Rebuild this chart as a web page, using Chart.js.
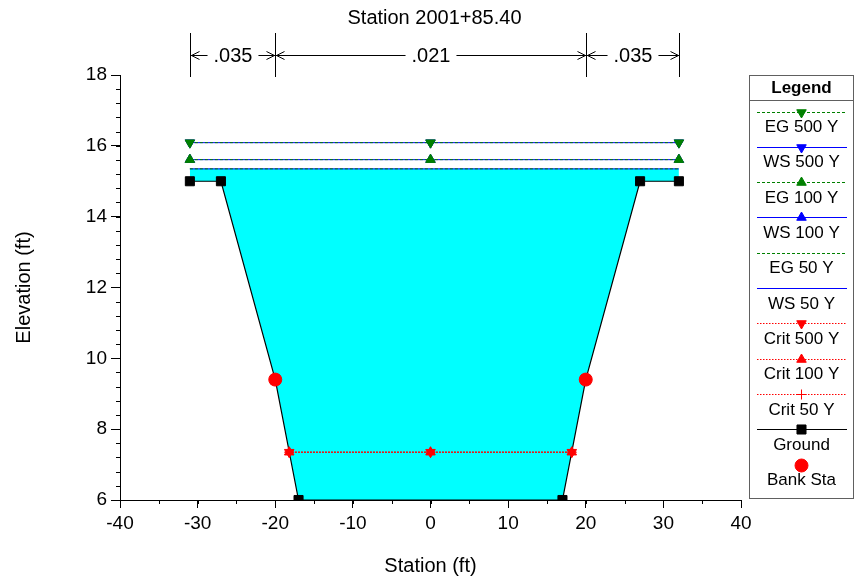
<!DOCTYPE html>
<html>
<head>
<meta charset="utf-8">
<title>Station 2001+85.40</title>
<script src="https://cdn.jsdelivr.net/npm/chart.js@4/dist/chart.umd.min.js"></script>
<style>
  html, body { margin: 0; padding: 0; background: #fff; }
  #wrap { width: 855px; height: 581px; }
</style>
</head>
<body>
<div id="wrap"><canvas id="xsChart" width="855" height="581"></canvas></div>
<script>
// --- Section data ---
const groundSta = [-31, -27, -20, -17, 17, 20, 27, 32];
const groundElev = [15, 15, 9.4, 6, 6, 9.4, 15, 15];
const bankSta = [-20, 20];
const bankElev = [9.4, 9.4];

const wsSta = [-31, 0, 32];
const eg500 = [16.09, 16.09, 16.09];
const ws500 = [16.09, 16.09, 16.09];
const eg100 = [15.61, 15.61, 15.61];
const ws100 = [15.61, 15.61, 15.61];
const eg50 = [15.35, 15.35, 15.35];
const ws50 = [15.35, 15.35, 15.35];

const critSta = [-18.2, 0, 18.2];
const crit500 = [7.35, 7.35, 7.35];
const crit100 = [7.35, 7.35, 7.35];
const crit50 = [7.35, 7.35, 7.35];

// Manning's n breaks
const nBreaks = [-31, -20, 20, 32];
const nValues = ['.035', '.021', '.035'];

// Axis ranges / steps
const xRange = [-40, 40];
const yRange = [6, 18];
const xStep = 10, xMinorStep = 5;
const yStep = 2, yMinorStep = 0.4;

const chartTitle = 'Station 2001+85.40';

const FONT = '"Liberation Sans", Arial, Helvetica, sans-serif';
Chart.defaults.font.family = FONT;
Chart.defaults.color = '#000';

const GREEN = '#008000';
const BLUE = '#0000ff';
const RED = '#ff0000';

function pts(xs, ys) {
  return xs.map((x, i) => ({ x: x, y: ys[i] }));
}

function profile(label, xs, ys, color, dash, style, rotation, radius) {
  return {
    label: label,
    data: pts(xs, ys),
    showLine: true,
    borderColor: color,
    backgroundColor: color,
    borderWidth: 1,
    borderDash: dash,
    pointStyle: style || 'circle',
    pointRotation: rotation || 0,
    pointRadius: style ? (radius || 5.5) : 0,
    pointBorderWidth: 1,
    pointBackgroundColor: color,
    pointBorderColor: color,
    fill: false
  };
}

const datasets = [
  profile('EG 500 Y', wsSta, eg500, GREEN, [3, 2], 'triangle', 180),
  profile('WS 500 Y', wsSta, ws500, BLUE, [], 'triangle', 180),
  profile('EG 100 Y', wsSta, eg100, GREEN, [3, 2], 'triangle', 0),
  profile('WS 100 Y', wsSta, ws100, BLUE, [], 'triangle', 0),
  profile('EG 50 Y', wsSta, eg50, GREEN, [3, 2], null),
  profile('WS 50 Y', wsSta, ws50, BLUE, [], null),
  profile('Crit 500 Y', critSta, crit500, RED, [1.5, 1.5], 'triangle', 180),
  profile('Crit 100 Y', critSta, crit100, RED, [1.5, 1.5], 'triangle', 0),
  profile('Crit 50 Y', critSta, crit50, RED, [1.5, 1.5], 'cross', 0, 5),
  profile('Ground', groundSta, groundElev, '#000', [], 'rect', 0, 6.4),
  {
    label: 'Bank Sta',
    data: pts(bankSta, bankElev),
    showLine: false,
    pointStyle: 'circle',
    pointRadius: 6.5,
    pointBorderWidth: 1,
    pointBackgroundColor: RED,
    pointBorderColor: RED,
    borderColor: RED,
    backgroundColor: RED,
    order: -1
  }
];
// water fill between WS 50 Y and the ground line
datasets[5].fill = 9;
datasets[5].backgroundColor = '#00ffff';
datasets[9].borderWidth = 1.2;

// --- minor ticks ---
const minorTicks = {
  id: 'minorTicks',
  afterDraw(chart) {
    const { ctx, chartArea } = chart;
    const xs = chart.scales.x, ys = chart.scales.y;
    ctx.save();
    ctx.strokeStyle = '#000';
    ctx.lineWidth = 1;
    ctx.beginPath();
    for (let v = xRange[0]; v <= xRange[1] + 1e-6; v += xMinorStep) {
      const p = Math.round(xs.getPixelForValue(v)) + 0.5;
      ctx.moveTo(p, chartArea.bottom);
      ctx.lineTo(p, chartArea.bottom + 4);
    }
    for (let v = yRange[0]; v <= yRange[1] + 1e-6; v += yMinorStep) {
      const p = Math.round(ys.getPixelForValue(v)) + 0.5;
      ctx.moveTo(chartArea.left, p);
      ctx.lineTo(chartArea.left - 4, p);
    }
    ctx.stroke();
    ctx.restore();
  }
};

// --- title + Manning's n bar above the plot ---
const nBar = {
  id: 'nBar',
  afterDraw(chart) {
    const { ctx, chartArea } = chart;
    const xs = chart.scales.x;
    const top = 33, bottom = 77, yArrow = 55.5;
    const px = nBreaks.map(v => Math.round(xs.getPixelForValue(v)) + 0.5);
    ctx.save();
    ctx.strokeStyle = '#000';
    ctx.fillStyle = '#000';
    ctx.lineWidth = 1;
    ctx.font = '20px ' + FONT;
    ctx.textAlign = 'center';
    ctx.textBaseline = 'middle';
    ctx.fillText(chartTitle, (chartArea.left + chartArea.right) / 2 + 4, 18);
    ctx.beginPath();
    px.forEach(p => { ctx.moveTo(p, top); ctx.lineTo(p, bottom); });
    nValues.forEach((label, i) => {
      const a = px[i], b = px[i + 1], mid = (a + b) / 2;
      const w = ctx.measureText(label).width;
      ctx.moveTo(a, yArrow); ctx.lineTo(mid - w / 2 - 6, yArrow);
      ctx.moveTo(mid + w / 2 + 6, yArrow); ctx.lineTo(b, yArrow);
      // open arrow heads
      ctx.moveTo(a + 9, yArrow - 4); ctx.lineTo(a + 1, yArrow); ctx.lineTo(a + 9, yArrow + 4);
      ctx.moveTo(b - 9, yArrow - 4); ctx.lineTo(b - 1, yArrow); ctx.lineTo(b - 9, yArrow + 4);
      ctx.fillText(label, mid, 56);
    });
    ctx.stroke();
    ctx.restore();
  }
};

// --- legend box on the right ---
const boxLegend = {
  id: 'boxLegend',
  afterDraw(chart) {
    const { ctx } = chart;
    const left = 749.5, top = 75.5, right = 853.5, bottom = 498.5;
    const cx = 801.5;
    ctx.save();
    ctx.strokeStyle = '#606060';
    ctx.lineWidth = 1;
    ctx.strokeRect(left, top, right - left, bottom - top);
    ctx.beginPath();
    ctx.moveTo(left, 100.5); ctx.lineTo(right, 100.5);
    ctx.stroke();

    ctx.fillStyle = '#000';
    ctx.textAlign = 'center';
    ctx.textBaseline = 'middle';
    ctx.font = 'bold 17px ' + FONT;
    ctx.fillText('Legend', cx, 88);

    ctx.font = '17px ' + FONT;
    chart.data.datasets.forEach((ds, i) => {
      const ly = 111.5 + i * 35.3;
      if (ds.showLine !== false) {
        ctx.save();
        ctx.strokeStyle = ds.borderColor;
        ctx.lineWidth = ds.borderWidth || 1;
        ctx.setLineDash(ds.borderDash || []);
        ctx.beginPath();
        ctx.moveTo(757, Math.round(ly) + 0.5);
        ctx.lineTo(847, Math.round(ly) + 0.5);
        ctx.stroke();
        ctx.restore();
      }
      if (ds.pointRadius > 0) {
        ctx.save();
        ctx.setLineDash([]);
        ctx.fillStyle = ds.pointBackgroundColor;
        ctx.strokeStyle = ds.pointBorderColor;
        ctx.lineWidth = 1;
        Chart.helpers.drawPoint(ctx, {
          pointStyle: ds.pointStyle,
          rotation: ds.pointRotation || 0,
          radius: ds.pointRadius,
          borderWidth: 1
        }, cx, Math.round(ly) + 0.5);
        ctx.restore();
      }
      ctx.fillStyle = '#000';
      ctx.fillText(ds.label, cx, ly + 16);
    });
    ctx.restore();
  }
};

new Chart(document.getElementById('xsChart'), {
  type: 'scatter',
  data: { datasets: datasets },
  plugins: [minorTicks, nBar, boxLegend],
  options: {
    responsive: false,
    animation: false,
    events: [],
    layout: { padding: { left: 0, right: 114, top: 75, bottom: 0 } },
    plugins: {
      legend: { display: false },
      tooltip: { enabled: false },
      title: { display: false },
      filler: { drawTime: 'beforeDatasetsDraw', propagate: false }
    },
    scales: {
      x: {
        type: 'linear',
        min: xRange[0],
        max: xRange[1],
        afterFit: s => { s.height = 81; },
        border: { display: true, color: '#000', width: 1 },
        grid: { display: true, drawOnChartArea: false, drawTicks: true, tickLength: 8, tickColor: '#000' },
        ticks: { stepSize: xStep, color: '#000', font: { size: 19 }, padding: 4, maxRotation: 0 },
        title: { display: true, text: 'Station (ft)', color: '#000', font: { size: 20 }, padding: { top: 0, bottom: 3 } }
      },
      y: {
        type: 'linear',
        min: yRange[0],
        max: yRange[1],
        afterFit: s => { s.width = 120; },
        border: { display: true, color: '#000', width: 1 },
        grid: { display: true, drawOnChartArea: false, drawTicks: true, tickLength: 9, tickColor: '#000' },
        ticks: { stepSize: yStep, color: '#000', font: { size: 19 }, padding: 4 },
        title: { display: true, text: 'Elevation (ft)', color: '#000', font: { size: 20 }, padding: { top: 12, bottom: 0 } }
      }
    }
  }
});
</script>
</body>
</html>
